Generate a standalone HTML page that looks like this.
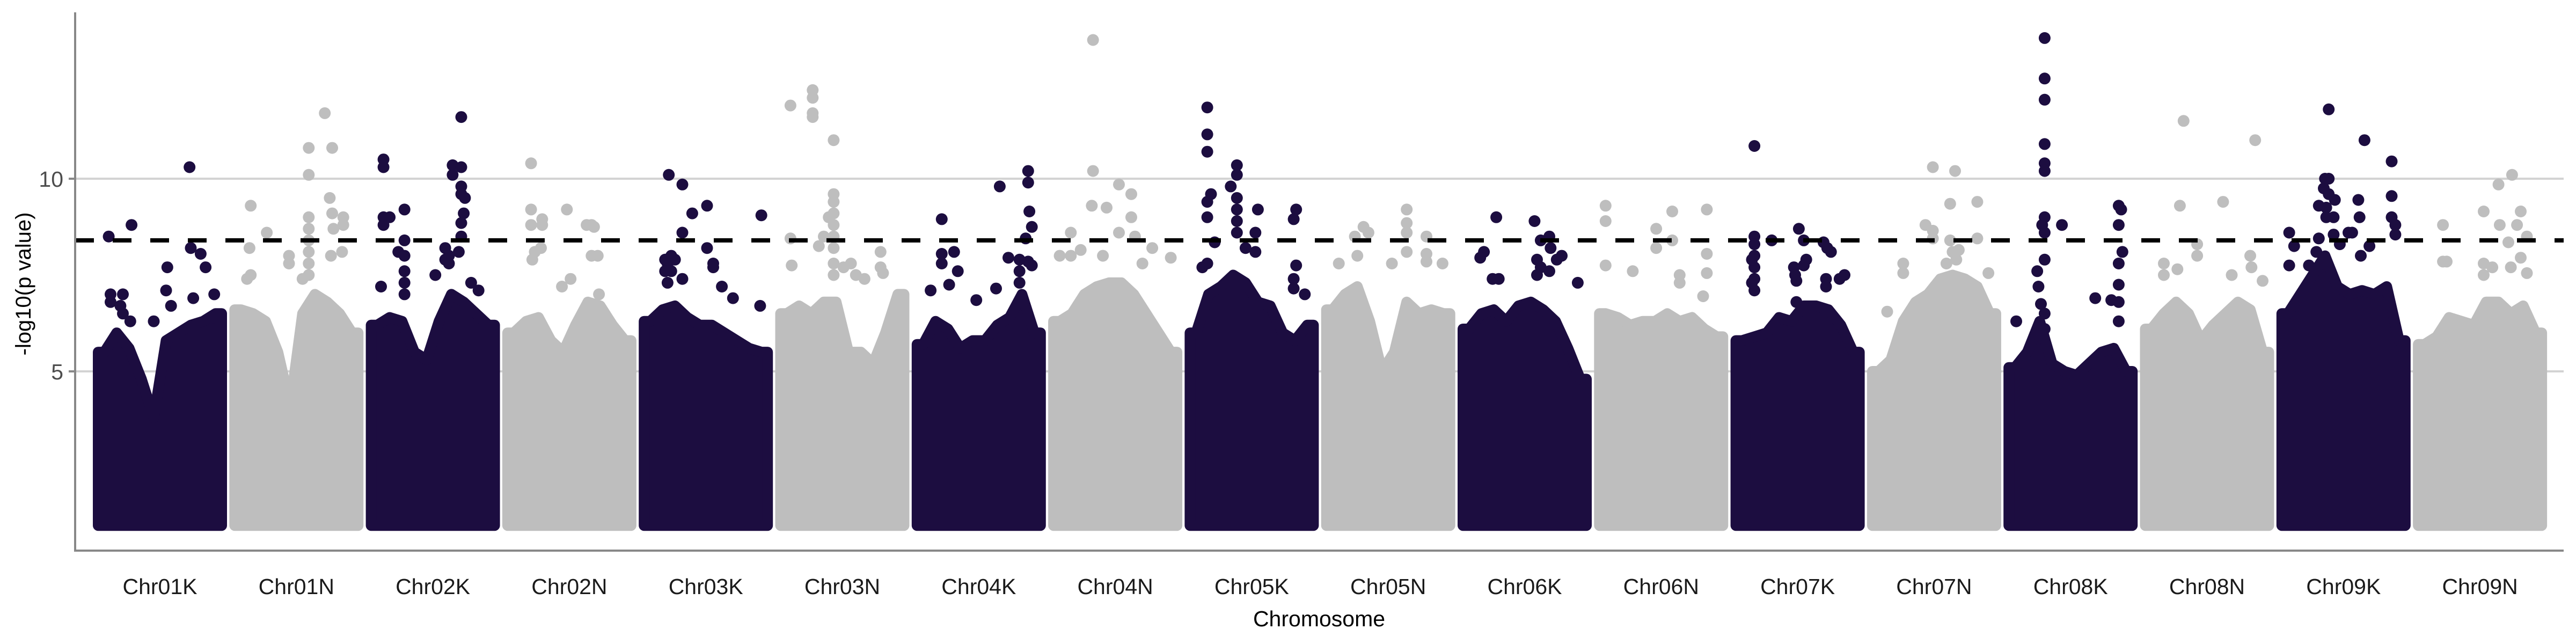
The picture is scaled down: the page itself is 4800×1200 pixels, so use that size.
<!DOCTYPE html>
<html><head><meta charset="utf-8"><style>
html,body{margin:0;padding:0;background:#fff;}
svg{display:block;font-family:"Liberation Sans",sans-serif;}
</style></head><body>
<svg id="chart" width="4800" height="1200" viewBox="0 0 4800 1200" xmlns="http://www.w3.org/2000/svg">
<g id="grid"></g>
<g id="marks"></g>
<g id="axes"></g>
</svg>
<script>
const chromosomes = ["Chr01K","Chr01N","Chr02K","Chr02N","Chr03K","Chr03N","Chr04K","Chr04N","Chr05K","Chr05N","Chr06K","Chr06N","Chr07K","Chr07N","Chr08K","Chr08N","Chr09K","Chr09N"];
const yTicks = [5, 10];
const yTickLabels = ["5", "10"];
const threshold = 8.4;
const baseValue = 1.0;
// upper envelope of dense point mass, 10 bins per chromosome
const profiles = [
 [5.5,6.0,5.6,4.8,3.8,5.8,6.0,6.2,6.3,6.5],
 [6.6,6.5,6.3,5.5,4.1,6.5,7.0,6.8,6.5,6.0],
 [6.2,6.4,6.3,5.5,5.3,6.3,7.0,6.8,6.5,6.2],
 [6.0,6.3,6.4,5.8,5.5,6.2,6.8,6.7,6.2,5.8],
 [6.3,6.6,6.7,6.4,6.2,6.2,6.0,5.8,5.6,5.5],
 [6.5,6.7,6.5,6.8,6.8,5.5,5.5,5.2,6.0,7.0],
 [5.7,6.3,6.1,5.6,5.8,5.8,6.2,6.4,7.0,6.0],
 [6.3,6.5,7.0,7.2,7.3,7.3,7.0,6.5,6.0,5.5],
 [6.0,7.0,7.2,7.5,7.3,6.8,6.7,6.0,5.8,6.2],
 [6.6,7.0,7.2,6.3,5.0,5.5,6.8,6.5,6.6,6.5],
 [6.1,6.5,6.6,6.3,6.7,6.8,6.6,6.3,5.6,4.8],
 [6.5,6.4,6.2,6.3,6.3,6.5,6.3,6.4,6.1,5.9],
 [5.8,5.9,6.0,6.4,6.3,6.7,6.7,6.6,6.2,5.5],
 [5.0,5.3,6.3,6.8,7.0,7.4,7.5,7.4,7.2,6.5],
 [5.1,5.5,6.3,5.2,5.0,4.9,5.2,5.5,5.6,5.0],
 [6.1,6.5,6.8,6.5,5.8,6.2,6.5,6.8,6.6,5.5],
 [6.5,7.0,7.5,8.0,7.2,7.0,7.1,7.0,7.2,5.8],
 [5.7,5.9,6.4,6.3,6.2,6.8,6.8,6.5,6.7,6.0]
];
// top hits: [relative position within chromosome, -log10 p]
const hits = [
 [[0.085,8.5],[0.27,8.8],[0.74,10.3],[0.75,8.2],[0.83,8.05],[0.56,7.7],[0.87,7.7],[0.55,7.1],[0.1,7.0],[0.2,7.0],[0.1,6.8],[0.18,6.7],[0.2,6.5],[0.94,7.0],[0.93,6.4],[0.77,6.9],[0.59,6.7],[0.45,6.3],[0.26,6.3]],
 [[0.13,9.3],[0.26,8.6],[0.12,8.2],[0.60,10.8],[0.60,10.1],[0.73,11.7],[0.79,10.8],[0.77,9.5],[0.60,9.0],[0.60,8.7],[0.60,8.4],[0.60,8.1],[0.60,7.8],[0.60,7.5],[0.88,9.0],[0.88,8.8],[0.79,9.1],[0.80,8.7],[0.44,8.0],[0.44,7.8],[0.13,7.5],[0.10,7.4],[0.87,8.1],[0.78,8.0],[0.55,7.4]],
 [[0.10,10.5],[0.10,10.3],[0.10,9.0],[0.15,9.0],[0.10,8.8],[0.27,9.2],[0.27,8.4],[0.22,8.1],[0.27,8.0],[0.27,7.6],[0.27,7.3],[0.27,7.0],[0.66,10.35],[0.66,10.1],[0.73,11.6],[0.73,10.3],[0.73,9.8],[0.73,9.6],[0.76,9.5],[0.75,9.1],[0.73,8.85],[0.73,8.5],[0.71,8.1],[0.60,8.2],[0.60,7.9],[0.63,8.0],[0.52,7.5],[0.63,7.8],[0.08,7.2],[0.81,7.3],[0.87,7.1]],
 [[0.19,10.4],[0.19,9.2],[0.19,8.8],[0.28,8.95],[0.28,8.8],[0.48,9.2],[0.64,8.8],[0.68,8.8],[0.27,8.2],[0.20,7.9],[0.22,8.1],[0.68,8.0],[0.51,7.4],[0.44,7.2],[0.70,8.75],[0.73,8.0],[0.74,7.0]],
 [[0.20,10.1],[0.31,9.85],[0.39,9.1],[0.31,8.6],[0.51,9.3],[0.95,9.05],[0.51,8.2],[0.17,7.9],[0.22,8.0],[0.25,7.9],[0.19,7.8],[0.17,7.6],[0.22,7.6],[0.19,7.3],[0.56,7.8],[0.56,7.7],[0.63,7.2],[0.31,7.4],[0.72,6.9],[0.94,6.7]],
 [[0.08,11.9],[0.26,12.3],[0.26,12.1],[0.26,11.7],[0.26,11.6],[0.43,11.0],[0.43,9.6],[0.43,9.4],[0.43,9.1],[0.43,8.8],[0.43,8.5],[0.43,8.2],[0.43,7.8],[0.43,7.5],[0.39,9.0],[0.35,8.5],[0.08,8.45],[0.31,8.25],[0.09,7.75],[0.51,7.7],[0.57,7.8],[0.61,7.5],[0.68,7.4],[0.81,8.1],[0.81,7.7],[0.83,7.55]],
 [[0.20,8.95],[0.20,8.05],[0.20,7.8],[0.30,8.1],[0.33,7.6],[0.67,9.8],[0.90,10.2],[0.90,9.9],[0.91,9.15],[0.93,8.75],[0.88,8.45],[0.74,7.95],[0.83,7.9],[0.90,7.85],[0.93,7.75],[0.83,7.6],[0.83,7.3],[0.11,7.1],[0.26,7.25],[0.48,6.85],[0.64,7.15]],
 [[0.32,13.6],[0.32,10.2],[0.31,9.3],[0.43,9.25],[0.53,9.85],[0.14,8.6],[0.05,8.0],[0.14,8.0],[0.22,8.15],[0.40,8.0],[0.63,9.6],[0.63,9.0],[0.66,8.5],[0.53,8.6],[0.95,7.95],[0.80,8.2],[0.72,7.8]],
 [[0.14,11.85],[0.14,11.15],[0.14,10.7],[0.17,9.6],[0.14,9.4],[0.14,9.0],[0.38,10.35],[0.38,10.1],[0.33,9.8],[0.38,9.5],[0.38,9.2],[0.38,8.9],[0.38,8.6],[0.55,9.2],[0.53,8.6],[0.53,8.1],[0.86,9.2],[0.84,8.95],[0.86,7.75],[0.20,8.35],[0.10,7.7],[0.14,7.8],[0.45,8.2],[0.84,7.4],[0.84,7.15],[0.93,7.0]],
 [[0.30,8.75],[0.34,8.6],[0.23,8.5],[0.65,9.2],[0.65,8.85],[0.65,8.6],[0.65,8.1],[0.81,8.5],[0.81,8.05],[0.81,7.85],[0.53,7.8],[0.94,7.8],[0.10,7.8],[0.25,8.0]],
 [[0.27,9.0],[0.58,8.9],[0.70,8.5],[0.63,8.4],[0.17,8.1],[0.14,7.95],[0.71,8.2],[0.76,7.9],[0.80,8.0],[0.60,7.9],[0.63,7.7],[0.60,7.5],[0.24,7.4],[0.29,7.4],[0.93,7.3],[0.70,7.6]],
 [[0.05,9.3],[0.05,8.9],[0.05,7.75],[0.27,7.6],[0.46,8.7],[0.46,8.2],[0.59,9.15],[0.59,8.4],[0.87,9.2],[0.87,8.05],[0.87,7.55],[0.65,7.5],[0.65,7.3],[0.84,6.95]],
 [[0.15,10.85],[0.15,8.5],[0.15,8.3],[0.15,8.0],[0.15,7.7],[0.15,7.4],[0.15,7.1],[0.29,8.4],[0.51,8.7],[0.55,8.4],[0.71,8.35],[0.74,8.2],[0.77,8.1],[0.13,7.9],[0.57,7.9],[0.55,7.75],[0.47,7.7],[0.48,7.5],[0.88,7.5],[0.84,7.4],[0.73,7.4],[0.73,7.2],[0.13,7.3],[0.49,7.35],[0.49,6.8]],
 [[0.49,10.3],[0.67,10.2],[0.63,9.35],[0.85,9.4],[0.43,8.8],[0.49,8.65],[0.49,8.45],[0.63,8.4],[0.85,8.45],[0.25,7.8],[0.25,7.55],[0.65,8.1],[0.70,8.15],[0.68,7.9],[0.94,7.55],[0.12,6.55],[0.60,7.8]],
 [[0.29,13.65],[0.29,12.6],[0.29,12.05],[0.29,10.9],[0.29,10.4],[0.29,10.2],[0.29,9.0],[0.27,8.8],[0.29,8.6],[0.43,8.8],[0.29,7.9],[0.23,7.6],[0.24,7.2],[0.26,6.75],[0.29,6.5],[0.29,6.1],[0.89,9.3],[0.91,9.2],[0.89,8.8],[0.92,8.1],[0.89,7.8],[0.89,7.25],[0.89,6.8],[0.89,6.3],[0.70,6.9],[0.83,6.85],[0.06,6.3]],
 [[0.31,11.5],[0.89,11.0],[0.28,9.3],[0.63,9.4],[0.42,8.3],[0.42,8.0],[0.15,7.8],[0.15,7.5],[0.85,8.0],[0.86,7.7],[0.26,7.65],[0.70,7.5],[0.95,7.35]],
 [[0.38,11.8],[0.67,11.0],[0.89,10.45],[0.35,10.0],[0.38,10.0],[0.34,9.75],[0.38,9.6],[0.43,9.45],[0.30,9.3],[0.36,9.25],[0.36,9.0],[0.42,9.0],[0.62,9.45],[0.63,9.0],[0.89,9.55],[0.89,9.0],[0.92,8.8],[0.92,8.55],[0.06,8.6],[0.10,8.25],[0.06,7.75],[0.42,8.55],[0.47,8.3],[0.54,8.6],[0.57,8.6],[0.71,8.25],[0.64,8.0],[0.30,8.45],[0.28,8.1],[0.22,7.75]],
 [[0.76,10.1],[0.65,9.85],[0.53,9.15],[0.20,8.8],[0.66,8.8],[0.80,8.8],[0.83,9.15],[0.88,8.5],[0.73,8.35],[0.20,7.85],[0.23,7.85],[0.53,7.8],[0.53,7.5],[0.60,7.7],[0.75,7.7],[0.83,7.95],[0.88,7.55]]
];

const NS = "http://www.w3.org/2000/svg";
const plotLeft = 140, plotRight = 4777, plotTop = 23, plotBottom = 1026;
const blockStart = 173, blockPitch = 254.3, blockWidth = 250, R = 10;
const colors = ["#1c0d40", "#bebebe"];
function yScale(v){ return 1051 - v * 71.8; }
function xScale(ci, f){ const s = blockStart + ci * blockPitch + R; return s + f * (blockWidth - 2 * R); }
function mk(tag, attrs, parent){ const e = document.createElementNS(NS, tag); for (const k in attrs) e.setAttribute(k, attrs[k]); parent.appendChild(e); return e; }

const grid = document.getElementById("grid");
const marks = document.getElementById("marks");
const axes = document.getElementById("axes");

yTicks.forEach((t, i) => {
  const gl = mk("line", {x1: plotLeft, x2: plotRight, y1: yScale(t), y2: yScale(t), stroke: "#d3d3d3", "stroke-width": 4}, grid);
  
  
});

chromosomes.forEach((name, ci) => {
  const g = mk("g", {}, marks);
  
  
  const col = colors[ci % 2];
  const prof = profiles[ci];
  const n = prof.length;
  let pts = [];
  pts.push([xScale(ci, 0), yScale(baseValue)]);
  pts.push([xScale(ci, 0), yScale(prof[0])]);
  for (let b = 0; b < n; b++) {
    pts.push([xScale(ci, (b + 0.5) / n), yScale(prof[b])]);
  }
  pts.push([xScale(ci, 1), yScale(prof[n - 1])]);
  pts.push([xScale(ci, 1), yScale(baseValue)]);
  const mass = mk("polygon", {points: pts.map(p => p[0].toFixed(1) + "," + p[1].toFixed(1)).join(" "), fill: col, stroke: col, "stroke-width": 2 * R, "stroke-linejoin": "round"}, g);
  
  
  hits[ci].forEach(h => {
    const c = mk("circle", {cx: xScale(ci, h[0]).toFixed(1), cy: yScale(h[1]).toFixed(1), r: R + 1, fill: col}, g);
    
    
  });
  const lbl = mk("text", {x: (xScale(ci, 0.5)).toFixed(1), y: 1107, "text-anchor": "middle", "font-size": 41, fill: "#1a1a1a"}, axes);
  lbl.textContent = name;
  
  
});

const th = mk("line", {x1: plotLeft, x2: plotRight, y1: yScale(threshold), y2: yScale(threshold), stroke: "#000", "stroke-width": 8, "stroke-dasharray": "35 35"}, marks);



const ya = mk("line", {x1: plotLeft, x2: plotLeft, y1: plotTop, y2: plotBottom, stroke: "#888", "stroke-width": 4}, axes);


const xa = mk("line", {x1: plotLeft - 2, x2: plotRight, y1: plotBottom, y2: plotBottom, stroke: "#888", "stroke-width": 4}, axes);


yTicks.forEach((t, i) => {
  const tk = mk("line", {x1: plotLeft - 12, x2: plotLeft, y1: yScale(t), y2: yScale(t), stroke: "#888", "stroke-width": 4}, axes);
  
  
  const tl = mk("text", {x: 118, y: yScale(t) + 15, "text-anchor": "end", "font-size": 41, fill: "#4d4d4d"}, axes);
  tl.textContent = yTickLabels[i];
  
  
});
const xt = mk("text", {x: 2458, y: 1167, "text-anchor": "middle", "font-size": 41, fill: "#000"}, axes);
xt.textContent = "Chromosome";


const yt = mk("text", {x: 0, y: 0, "text-anchor": "middle", "font-size": 40, fill: "#000", transform: "translate(57,529) rotate(-90)"}, axes);
yt.textContent = "-log10(p value)";


</script>
</body></html>
